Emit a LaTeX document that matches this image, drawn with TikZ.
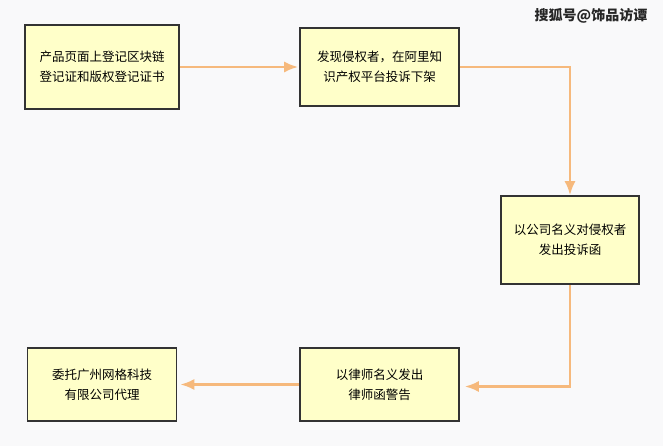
\documentclass[tikz,border=0pt]{standalone}
\usepackage{fontspec}
\usetikzlibrary{arrows.meta}
\newfontfamily\cjk{Noto Sans CJK SC}
\definecolor{boxfill}{HTML}{FFFFC9}
\definecolor{flow}{HTML}{F6B97C}
\definecolor{bggrey}{HTML}{F9F9FA}

\begin{document}
\begin{tikzpicture}[x=1pt, y=-1pt,
  stepbox/.style={draw=black!80, line width=1.6pt, fill=boxfill, align=center,
    font=\cjk\fontsize{12.5}{20}\selectfont, inner sep=0pt},
  flowarrow/.style={draw=flow, line width=2.4pt, -{Latex[length=14pt,width=11pt]}}]
\fill[bggrey] (0,0) rectangle (663,446);
\useasboundingbox (0,0) rectangle (663,446);

\node[font=\cjk\bfseries\fontsize{14}{14}\selectfont, text=black!85] (mark) at (591,16) {搜狐号@饰品访谭};

\node[stepbox, minimum width=154pt, minimum height=84pt] (reg) at (102,67) {产品页面上登记区块链\\登记证和版权登记证书};
\node[stepbox, minimum width=159pt, minimum height=78pt] (ali) at (379.5,67) {发现侵权者，在阿里知\\识产权平台投诉下架};
\node[stepbox, minimum width=138pt, minimum height=88pt] (firm) at (570,240) {以公司名义对侵权者\\发出投诉函};
\node[stepbox, minimum width=159pt, minimum height=73pt] (lawyer) at (379.5,384.5) {以律师名义发出\\律师函警告};
\node[stepbox, minimum width=149pt, minimum height=73pt] (agent) at (102,384.5) {委托广州网格科技\\有限公司代理};

\draw[flowarrow, shorten >=1pt] (reg) -- (ali);
\draw[flowarrow] (ali.east) -| (firm.north);
\draw[flowarrow, shorten >=5pt] (firm.south) |- ([yshift=-2pt]lawyer.east);
\draw[flowarrow, shorten >=3pt] (lawyer) -- (agent);
\end{tikzpicture}
\end{document}
